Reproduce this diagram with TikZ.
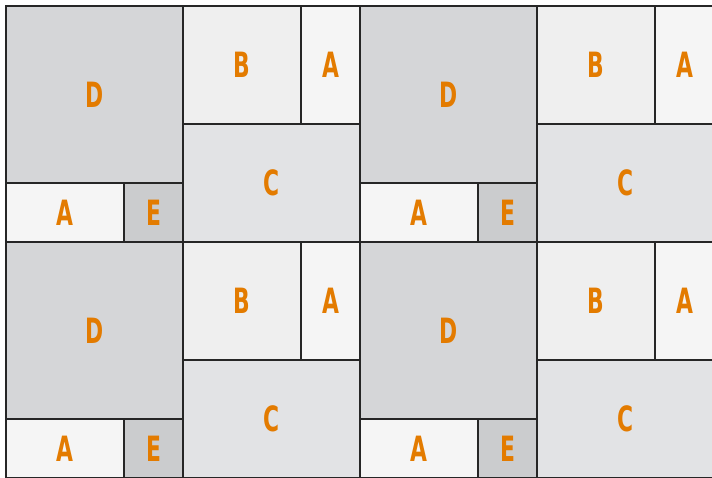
\documentclass[tikz,border=0pt]{standalone}
\usepackage{fontspec}
\usepackage{graphicx}
\newfontfamily\tilefont{DejaVu Sans Condensed}
\newcommand{\tilelabel}[1]{\scalebox{0.78}[1.12]{#1}}
\definecolor{TileOrange}{HTML}{E37B00}
\definecolor{TileEdge}{HTML}{262626}
\definecolor{TileD}{HTML}{D5D6D8}
\definecolor{TileE}{HTML}{CBCCCE}
\definecolor{TileA}{HTML}{F5F5F5}
\definecolor{TileB}{HTML}{EFEFEF}
\definecolor{TileC}{HTML}{E2E3E5}
\usetikzlibrary{positioning}

\begin{document}
\begin{tikzpicture}[x=1cm,y=-1cm,
      tile/.style={draw=TileEdge,line width=1.1pt,inner sep=0pt,text=TileOrange,
                   font=\tilefont\bfseries\fontsize{15}{15}\selectfont},
      big/.style={tile,fill=TileD,minimum width=3cm,minimum height=3cm},
      wide/.style={tile,fill=TileA,minimum width=2cm,minimum height=1cm},
      small/.style={tile,fill=TileE,minimum width=1cm,minimum height=1cm},
      square/.style={tile,fill=TileB,minimum width=2cm,minimum height=2cm},
      tall/.style={tile,fill=TileA,minimum width=1cm,minimum height=2cm},
      long/.style={tile,fill=TileC,minimum width=3cm,minimum height=2cm}]
    \useasboundingbox (-0.1017,-0.1017) rectangle (11.966,8);
    \clip (-0.1017,-0.1017) rectangle (11.966,8);
    \fill[white] (-0.1017,-0.1017) rectangle (11.966,8);
    % one block is 6 x 4 units, repeated
    \foreach \bx/\by [count=\k] in {0/0,6/0,0/4,6/4} {
      \node[big]    (d\k)  at (\bx+1.5,\by+1.5) {\tilelabel{D}};
      \node[wide]   (ah\k) at (\bx+1,\by+3.5)   {\tilelabel{A}};
      \node[small]  (e\k)  at (\bx+2.5,\by+3.5) {\tilelabel{E}};
      \node[square] (b\k)  at (\bx+4,\by+1)     {\tilelabel{B}};
      \node[tall]   (av\k) at (\bx+5.5,\by+1)   {\tilelabel{A}};
      \node[long]   (c\k)  at (\bx+4.5,\by+3)   {\tilelabel{C}};
    }
  \end{tikzpicture}
\end{document}
